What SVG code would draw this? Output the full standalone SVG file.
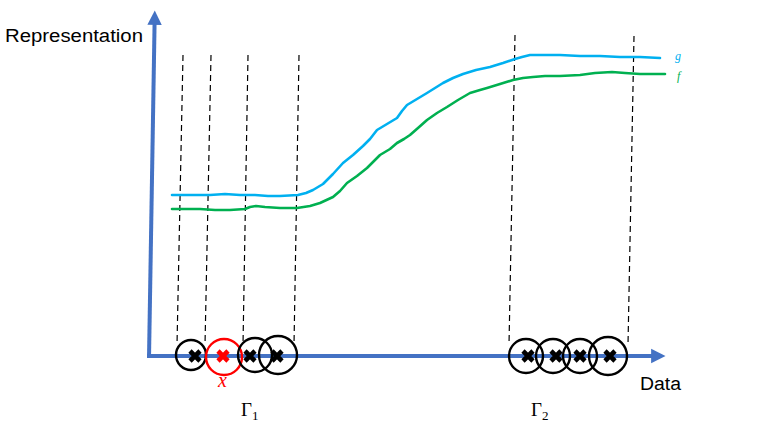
<svg xmlns="http://www.w3.org/2000/svg" xmlns:xlink="http://www.w3.org/1999/xlink" width="761" height="428" viewBox="0 0 761 428">
<style>
.axis{stroke:#4472C4;stroke-width:4;fill:none}
.dash{stroke:#000;stroke-width:1.2;stroke-dasharray:6 4;fill:none}
.curve{fill:none;stroke-width:2.6;stroke-linejoin:round;stroke-linecap:round}
.ring{fill:none;stroke:#000;stroke-width:2.4}
.ring.red{stroke:#FF0000}
.lbl{font-family:"Liberation Sans",Arial,sans-serif;font-size:18px;fill:#000}
.math{font-family:"Liberation Serif","DejaVu Serif",serif}
</style>
<defs>
<marker id="ah" viewBox="0 0 10 10" refX="2" refY="5" markerWidth="3.6" markerHeight="4" orient="auto" markerUnits="strokeWidth">
<path d="M0,0 L10,5 L0,10 Z" fill="#4472C4"/>
</marker>
<path id="cross" d="M-5,-5 L5,5 M5,-5 L-5,5" stroke="#000" stroke-width="4.6" fill="none"/>
<path id="crossr" d="M-5,-5 L5,5 M5,-5 L-5,5" stroke="#FF0000" stroke-width="4.6" fill="none"/>
</defs>

<g id="axes">
<line class="axis" x1="149" y1="358" x2="154.6" y2="22" marker-end="url(#ah)"/>
<line class="axis" x1="147" y1="356" x2="654" y2="356" marker-end="url(#ah)"/>
</g>

<g id="connectors">
<line class="dash" x1="183" y1="55" x2="177" y2="345"/>
<line class="dash" x1="211" y1="55" x2="205" y2="345"/>
<line class="dash" x1="248" y1="55" x2="243" y2="345"/>
<line class="dash" x1="299" y1="55" x2="294" y2="345"/>
<line class="dash" x1="515" y1="35" x2="509" y2="345"/>
<line class="dash" x1="634" y1="36" x2="628" y2="345"/>
</g>

<g id="curve-g">
<polyline class="curve" stroke="#00B0F0" points="172,195 190,195 210,195 225,194 240,195 255,195 268,196 280,196 298,195 306,193 313,190 323,184 333,174 343,163 353,155 363,146 370,139 377,130 387,124 397,118 402,111 407,105 417,99 427,93 435,88 443,83 453,78 463,74 476,70 490,67 503,63 515,59 522,57 530,55 545,55 560,55 580,56 600,56 620,57 640,57 660,58"/>
<text class="math" x="675" y="60" font-size="12" font-style="italic" fill="#00B0F0">g</text>
</g>

<g id="curve-f">
<polyline class="curve" stroke="#00B050" points="172,209 185,209 200,209 215,210 230,210 245,209 250,207 256,206 265,207 280,208 297,208 310,206 320,203 333,197 340,191 347,183 357,176 367,168 374,161 380,155 390,149 397,143 404,139 410,135 418,128 427,120 437,113 447,107 458,100 470,93 480,90 487,88 500,84 513,80 523,78 533,77 545,76 560,76 580,75 595,73 612,72 625,73 640,74 665,74"/>
<text class="math" x="677" y="80" font-size="12" font-style="italic" fill="#00B050">f</text>
</g>

<g id="gamma1">
<circle class="ring" cx="191" cy="355" r="15"/>
<circle class="ring red" cx="224" cy="357" r="18"/>
<circle class="ring" cx="255" cy="355" r="17"/>
<circle class="ring" cx="278" cy="355" r="19"/>
<use xlink:href="#cross" x="195" y="356"/>
<use xlink:href="#crossr" x="223" y="356"/>
<use xlink:href="#cross" x="250" y="356"/>
<use xlink:href="#cross" x="277" y="356"/>
<text class="math" x="218" y="387" font-size="20" font-style="italic" fill="#FF0000">x</text>
<text class="math" x="241" y="416" font-size="19" fill="#000">Γ<tspan font-size="13" dy="4">1</tspan></text>
</g>

<g id="gamma2">
<circle class="ring" cx="526" cy="356" r="17"/>
<circle class="ring" cx="553" cy="356" r="17"/>
<circle class="ring" cx="580" cy="356" r="17"/>
<circle class="ring" cx="608" cy="356" r="19"/>
<use xlink:href="#cross" x="528" y="356"/>
<use xlink:href="#cross" x="556" y="356"/>
<use xlink:href="#cross" x="580" y="356"/>
<use xlink:href="#cross" x="610" y="356"/>
<text class="math" x="531" y="416" font-size="19" fill="#000">Γ<tspan font-size="13" dy="4">2</tspan></text>
</g>

<g id="labels">
<text class="lbl" x="5" y="42" textLength="138" lengthAdjust="spacingAndGlyphs">Representation</text>
<text class="lbl" x="640" y="390" textLength="41" lengthAdjust="spacingAndGlyphs">Data</text>
</g>
</svg>
